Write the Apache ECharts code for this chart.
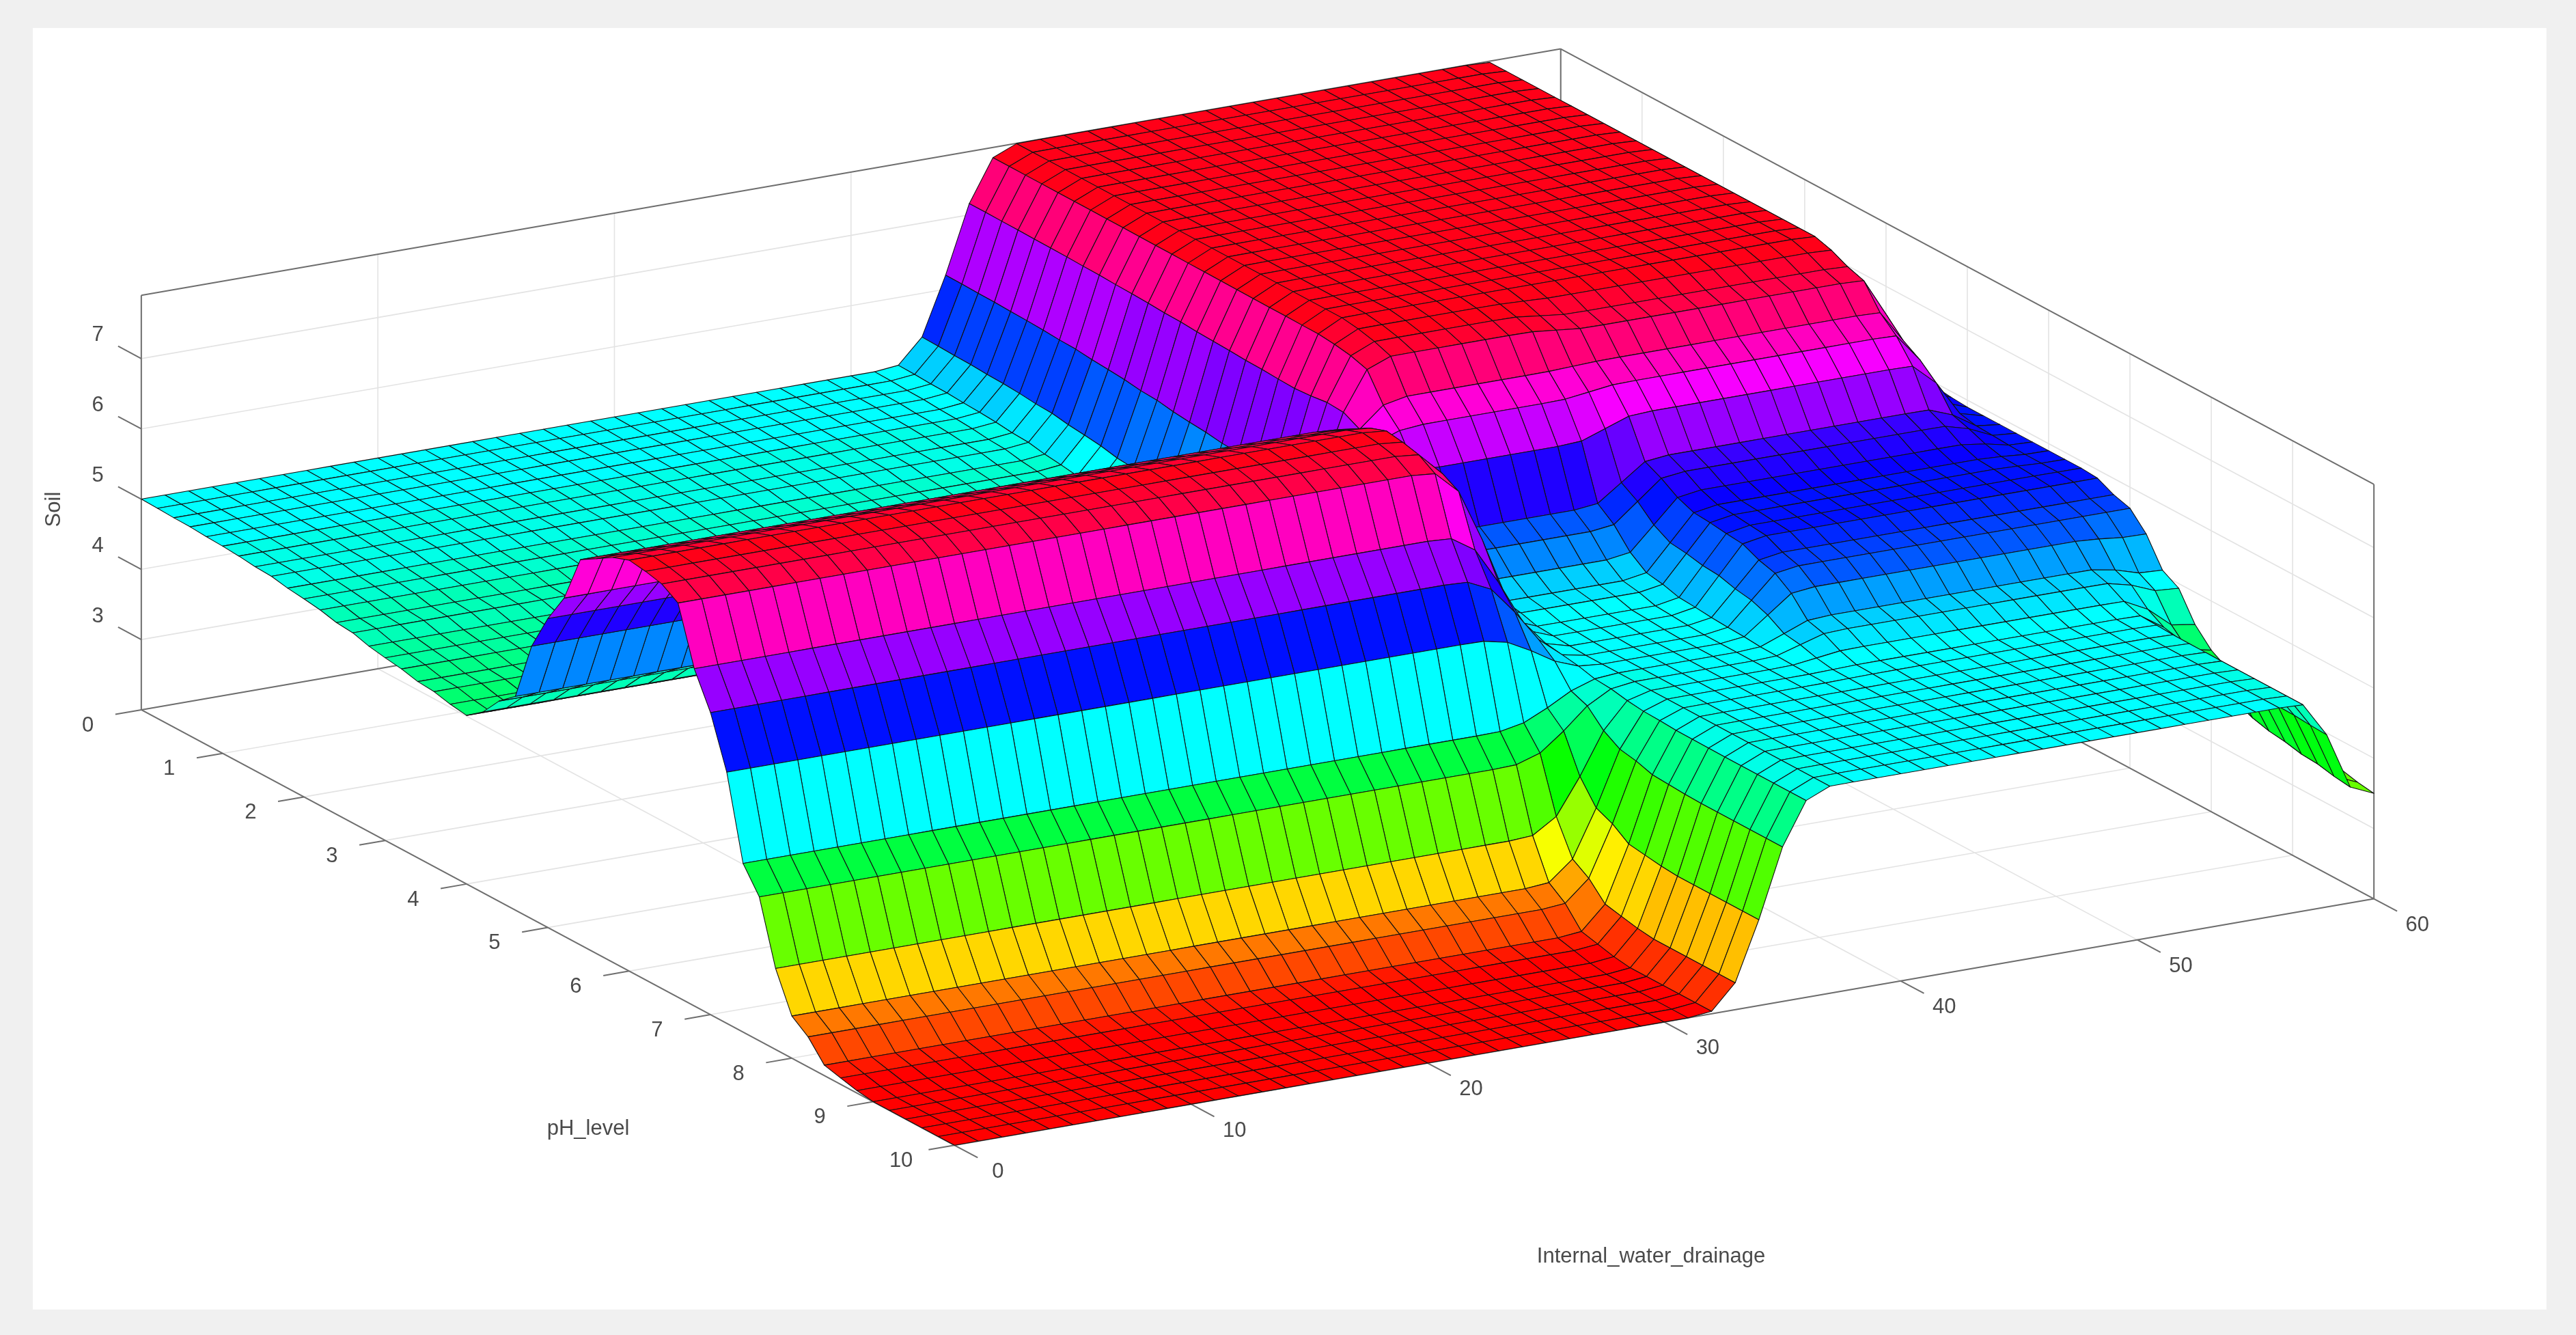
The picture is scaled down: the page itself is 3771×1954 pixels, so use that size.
<!DOCTYPE html>
<html><head><meta charset="utf-8">
<script src="https://cdn.jsdelivr.net/npm/echarts@6/dist/echarts.min.js"></script>
<style>html,body{margin:0;padding:0;background:#f0f0f0}#c{width:3771px;height:1954px}</style>
</head><body><div id="c"></div>
<script>
// ---- data ----
const drainTicks = [0, 10, 20, 30, 40, 50, 60];
const pHTicks = [0, 1, 2, 3, 4, 5, 6, 7, 8, 9, 10];
const soilTicks = [3, 4, 5, 6, 7];
const soilRange = [2.0, 7.9];
// pH nodes 0,0.5,...,10 for the profiles below
const pHNodes = [0,0.5,1,1.5,2,2.5,3,3.5,4,4.5,5,5.5,6,6.5,7,7.5,8,8.5,9,9.5,10];
const profileFrontRidge = [5.0,4.98,4.95,4.9,4.82,4.72,4.6,4.5,4.4,4.9,6.4,7.6,7.85,7.75,6.3,4.2,2.6,2.1,2.0,2.0,2.0];
const profileBackPlateau = [7.9,7.9,7.9,7.9,7.9,7.9,7.9,7.9,7.9,7.8,7.0,5.6,5.1,4.98,4.95,4.95,4.95,4.95,4.95,4.95,4.95];
const profileBlueShelf = [7.9,7.9,7.9,7.9,7.9,7.9,7.9,7.9,7.9,7.7,7.1,6.2,5.95,5.9,5.7,5.2,4.97,4.95,4.95,4.95,4.95];
const profileEdge60 = [6.0,6.0,6.0,6.0,6.0,6.0,6.0,6.0,6.0,5.95,5.9,5.9,5.9,5.9,5.7,5.0,4.3,3.9,3.7,3.6,3.5];
// drainage positions where those profiles hold
const drainAnchors = [0, 31, 37.5, 42, 46, 56.5, 60];
const anchorProfiles = [profileFrontRidge, profileFrontRidge, profileBackPlateau, profileBackPlateau, profileBlueShelf, profileBlueShelf, profileEdge60];
const meshDrain = 60, meshPH = 50; // mesh cells
const labels = {x:'Internal_water_drainage', y:'pH_level', z:'Soil'};

// ---- helpers ----
const W=3771, H=1954, S=W/1568, RH=H/S;
const ZMIN=soilRange[0], ZMAX=soilRange[1];
function proj(d,p,z){return [86+14.4*d+49.5*p, 432-2.5*d+26.5*p-(z-ZMIN)*42.75];}
function cosb(a,b,t){const u=(1-Math.cos(Math.PI*t))/2;return a+(b-a)*u;}
function prof(P,p){let i=Math.min(Math.floor(p/0.5),pHNodes.length-2);const t=(p-pHNodes[i])/0.5;return cosb(P[i],P[i+1],t);}
function ss(t){return t*t*(3-2*t);}
function Z(d,p){
  let k=0; while(k<drainAnchors.length-2 && d>drainAnchors[k+1]) k++;
  const t=Math.max(0,Math.min(1,(d-drainAnchors[k])/(drainAnchors[k+1]-drainAnchors[k])));
  const u=ss(ss(t));
  const a=prof(anchorProfiles[k],p), b=prof(anchorProfiles[k+1],p);
  return a+(b-a)*u;
}
function hsv(z){
  let f=(z-ZMIN)/(ZMAX-ZMIN); f=Math.max(0,Math.min(0.99999,f));
  const idx=Math.floor(f*64); const h=idx/64*6; const i=Math.floor(h), fr=h-i;
  const q=1-fr, t=fr; let r,g,b;
  switch(i%6){case 0:r=1;g=t;b=0;break;case 1:r=q;g=1;b=0;break;case 2:r=0;g=1;b=t;break;case 3:r=0;g=q;b=1;break;case 4:r=t;g=0;b=1;break;default:r=1;g=0;b=q;}
  return 'rgb('+Math.round(r*255)+','+Math.round(g*255)+','+Math.round(b*255)+')';
}
const dStep=60/meshDrain, pStep=10/meshPH;
const grid=[];
for(let i=0;i<=meshDrain;i++){grid.push([]);for(let j=0;j<=meshPH;j++){grid[i].push(Z(i*dStep,j*pStep));}}
const cells=[];
for(let i=0;i<meshDrain;i++)for(let j=0;j<meshPH;j++){
  const dc=(i+0.5)*dStep, pc=(j+0.5)*pStep;
  cells.push({i,j,depth:26.5*pc-2.5*dc});
}
cells.sort((a,b)=>a.depth-b.depth);
const cellData=cells.map((c,k)=>[k,0]);

const chart=echarts.init(document.getElementById('c'),null,{renderer:'canvas'});
const LINE='#6e6e6e', GRIDC='#e3e3e3', TXT='#4a4a4a', FS=31, FONT='"Liberation Sans", Arial, sans-serif';

function frame(params,api){
  const C=a=>api.coord(a);
  const ch=[];
  const tl=C([20,17]), br=C([1550,797]);
  ch.push({type:'rect',shape:{x:tl[0],y:tl[1],width:br[0]-tl[0],height:br[1]-tl[1]},style:{fill:'#fff'}});
  const ln=(a,b,col,w)=>{const A=C(a),B=C(b);ch.push({type:'line',shape:{x1:A[0],y1:A[1],x2:B[0],y2:B[1]},style:{stroke:col,lineWidth:w}});};
  drainTicks.forEach(d=>{ln(proj(d,0,ZMIN),proj(d,0,ZMAX),GRIDC,1.6);ln(proj(d,0,ZMIN),proj(d,10,ZMIN),GRIDC,1.6);});
  soilTicks.forEach(z=>{ln(proj(0,0,z),proj(60,0,z),GRIDC,1.6);ln(proj(60,0,z),proj(60,10,z),GRIDC,1.6);});
  pHTicks.forEach(p=>{ln(proj(60,p,ZMIN),proj(60,p,ZMAX),GRIDC,1.6);ln(proj(0,p,ZMIN),proj(60,p,ZMIN),GRIDC,1.6);});
  const E=[[[0,0,ZMIN],[0,0,ZMAX]],[[0,0,ZMAX],[60,0,ZMAX]],[[60,0,ZMIN],[60,0,ZMAX]],[[60,0,ZMAX],[60,10,ZMAX]],[[60,10,ZMIN],[60,10,ZMAX]],
    [[0,0,ZMIN],[0,10,ZMIN]],[[0,10,ZMIN],[60,10,ZMIN]],[[0,0,ZMIN],[60,0,ZMIN]],[[60,0,ZMIN],[60,10,ZMIN]]];
  E.forEach(e=>ln(proj(...e[0]),proj(...e[1]),LINE,2));
  const txt=(pos,s,extra)=>{const P=C(pos);ch.push(Object.assign({type:'text',x:P[0],y:P[1],style:{text:s,fill:TXT,font:FS+'px '+FONT,textAlign:'center',textVerticalAlign:'middle'}},extra||{}));};
  const uP=[0.882,0.472], uD=[-0.985,0.171];
  soilTicks.forEach(z=>{const a=proj(0,0,z);ln(a,[a[0]-uP[0]*16,a[1]-uP[1]*16],LINE,2);txt([a[0]-uP[0]*30,a[1]-uP[1]*30],String(z));});
  pHTicks.forEach(p=>{const a=proj(0,p,ZMIN);ln(a,[a[0]+uD[0]*16,a[1]+uD[1]*16],LINE,2);txt([a[0]+uD[0]*33,a[1]+uD[1]*33+4],String(p));});
  drainTicks.forEach(d=>{const a=proj(d,10,ZMIN);ln(a,[a[0]+uP[0]*16,a[1]+uP[1]*16],LINE,2);txt([a[0]+uP[0]*30,a[1]+uP[1]*30+2],String(d));});
  const zp=C([33,310]);
  ch.push({type:'text',x:zp[0],y:zp[1],rotation:Math.PI/2,style:{text:labels.z,fill:TXT,font:FS+'px '+FONT,textAlign:'center',textVerticalAlign:'middle'}});
  txt([358,687],labels.y);
  txt([1005,765],labels.x);
  return {type:'group',children:ch};
}
function cell(params,api){
  const c=cells[params.dataIndex];
  const i=c.i,j=c.j;
  const pts=[[i,j],[i+1,j],[i+1,j+1],[i,j+1]].map(q=>api.coord(proj(q[0]*dStep,q[1]*pStep,grid[q[0]][q[1]])));
  const zm=(grid[i][j]+grid[i+1][j]+grid[i+1][j+1]+grid[i][j+1])/4;
  return {type:'polygon',shape:{points:pts},style:{fill:hsv(zm),stroke:'#111',lineWidth:1.1,lineJoin:'round'}};
}
chart.setOption({
  animation:false, backgroundColor:'#f0f0f0',
  grid:{left:0,right:0,top:0,bottom:0},
  xAxis:{type:'value',min:0,max:1568,show:false},
  yAxis:{type:'value',min:0,max:RH,inverse:true,show:false},
  series:[
    {type:'custom',renderItem:frame,data:[[0,0]],silent:true,clip:false,z:1},
    {type:'custom',renderItem:cell,data:cellData,silent:true,clip:false,progressive:0,z:2}
  ]
});
</script></body></html>
